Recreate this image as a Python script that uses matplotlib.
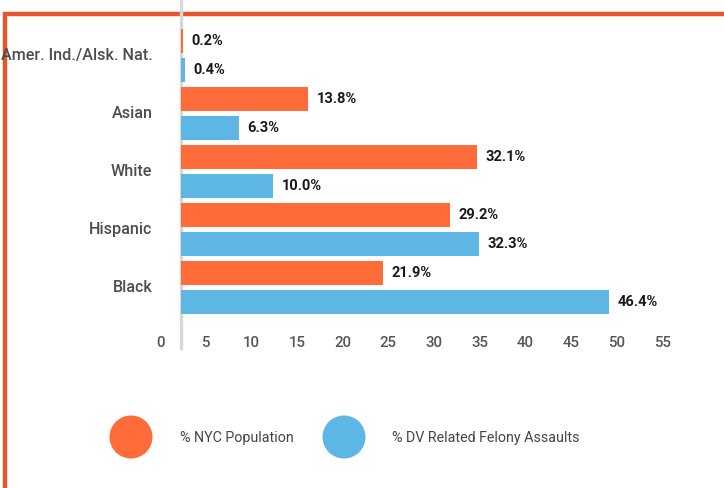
import matplotlib
matplotlib.use("Agg")
import matplotlib.pyplot as plt
import numpy as np
from matplotlib.lines import Line2D
from matplotlib.patches import Circle
import matplotlib.transforms as mtransforms

plt.rcParams['font.family'] = ['Roboto', 'DejaVu Sans']

categories = ["Amer. Ind./Alsk. Nat.", "Asian", "White", "Hispanic", "Black"]
nyc_population = [0.2, 13.8, 32.1, 29.2, 21.9]
dv_assaults = [0.4, 6.3, 10.0, 32.3, 46.4]
tick_values = [0, 5, 10, 15, 20, 25, 30, 35, 40, 45, 50, 55]
series_names = ["% NYC Population", "% DV Related Felony Assaults"]

ORANGE = "#FF6B39"
BLUE = "#5EB6E4"
BORDER = "#E8542C"

W, H = 724, 488
fig = plt.figure(figsize=(W / 100, H / 100), dpi=100)

def px(x0, y0, x1, y1):
    return [x0 / W, 1 - y1 / H, (x1 - x0) / W, (y1 - y0) / H]

ax = fig.add_axes(px(158, 26.5, 716, 316.5))
ax.patch.set_visible(False)
n = len(categories)
pos_o = np.arange(n) * 2
pos_b = pos_o + 1
ax.barh(pos_o, nyc_population, height=0.8, color=ORANGE, zorder=2)
ax.barh(pos_b, dv_assaults, height=0.8, color=BLUE, zorder=2)

for p, v in list(zip(pos_o, nyc_population)) + list(zip(pos_b, dv_assaults)):
    ax.annotate(f"{v:.1f}%", (v, p), xytext=(6, 0), textcoords="offset points",
                ha="left", va="center", fontsize=10.5, fontweight="semibold",
                color="#1a1a1a")

ax.set_xlim(-2.5, 58)
ax.set_ylim(2 * n - 0.5, -0.5)
ax.set_yticks(pos_o + 0.45)
ax.set_yticklabels(categories, fontsize=11.6, color="#4d4d4d", fontweight="medium")
ax.set_xticks([t * 0.99 - 2.28 for t in tick_values])
ax.set_xticklabels([str(t) for t in tick_values], fontsize=10.8, color="#555555",
                   fontweight="medium")
ax.tick_params(axis="both", length=0)
ax.tick_params(axis="y", pad=4)
ax.tick_params(axis="x", pad=14)
for s in ax.spines.values():
    s.set_visible(False)

# gray baseline at zero, extending to top of figure (behind bars)
trans = mtransforms.blended_transform_factory(ax.transData, fig.transFigure)
fig.add_artist(Line2D([0, 0], [1 - 348 / H, 1], transform=trans,
                      color="#D8D8D8", lw=2.4, zorder=-1))

# border
fig.add_artist(Line2D([3 / W, 1], [1 - 13.5 / H, 1 - 13.5 / H], transform=fig.transFigure,
                      color=BORDER, lw=3.2, solid_capstyle="butt", zorder=-2))
fig.add_artist(Line2D([5 / W, 5 / W], [0, 1 - 12 / H], transform=fig.transFigure,
                      color=BORDER, lw=3.2, solid_capstyle="butt", zorder=-2))

# legend
for cx, tx, col, name in [(131, 180, ORANGE, series_names[0]), (344, 392, BLUE, series_names[1])]:
    fig.add_artist(Circle((cx / 100, (H - 437) / 100), 0.215, transform=fig.dpi_scale_trans,
                          color=col, lw=0))
    fig.text(tx / W, 1 - 438 / H, name, ha="left", va="center", fontsize=10.3,
             color="#444444")

fig.savefig("out.png", dpi=100)
